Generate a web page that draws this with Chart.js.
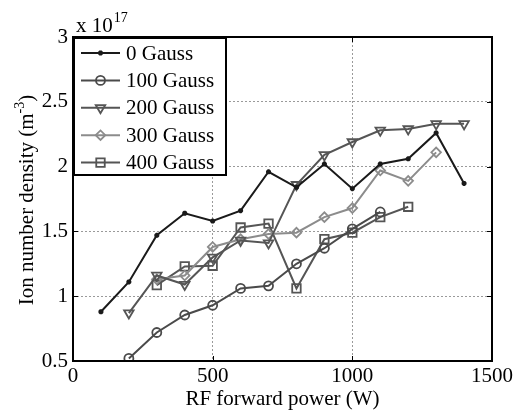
<!DOCTYPE html>
<html>
<head>
<meta charset="utf-8">
<script src="https://cdn.jsdelivr.net/npm/chart.js@4/dist/chart.umd.min.js"></script>
<style>
html,body{margin:0;padding:0;background:#fff;}
#wrap{width:516px;height:410px;position:relative;}
</style>
</head>
<body>
<div id="wrap"><canvas id="c" width="516" height="410"></canvas></div>
<script>
// ---- data ----
const seriesNames = ["0 Gauss", "100 Gauss", "200 Gauss", "300 Gauss", "400 Gauss"];
const power0   = [100, 200, 300, 400, 500, 600, 700, 800, 900, 1000, 1100, 1200, 1300, 1400];
const density0 = [0.88, 1.11, 1.47, 1.64, 1.58, 1.66, 1.96, 1.84, 2.02, 1.83, 2.02, 2.06, 2.26, 1.87];
const power100   = [200, 300, 400, 500, 600, 700, 800, 900, 1000, 1100];
const density100 = [0.52, 0.72, 0.855, 0.93, 1.06, 1.08, 1.25, 1.37, 1.52, 1.65];
const power200   = [200, 300, 400, 500, 600, 700, 800, 900, 1000, 1100, 1200, 1300, 1400];
const density200 = [0.87, 1.16, 1.09, 1.30, 1.43, 1.41, 1.86, 2.09, 2.19, 2.28, 2.29, 2.33, 2.33];
const power300   = [300, 400, 500, 600, 700, 800, 900, 1000, 1100, 1200, 1300];
const density300 = [1.13, 1.16, 1.38, 1.44, 1.48, 1.49, 1.61, 1.68, 1.97, 1.89, 2.11];
const power400   = [300, 400, 500, 600, 700, 800, 900, 1000, 1100, 1200];
const density400 = [1.085, 1.23, 1.235, 1.53, 1.56, 1.06, 1.44, 1.49, 1.61, 1.69];
const xTicks = [0, 500, 1000, 1500];
const yTicks = [0.5, 1, 1.5, 2, 2.5, 3];

// ---- styles ----
const FONT = '"Liberation Serif", "Times New Roman", serif';
const styles = [
  {color: '#1a1a1a', pointStyle: 'star',     radius: 2.5, rotation: 0},
  {color: '#4a4a4a', pointStyle: 'circle',   radius: 4.5, rotation: 0},
  {color: '#555555', pointStyle: 'triangle', radius: 5.5, rotation: 180},
  {color: '#8c8c8c', pointStyle: 'rectRot',  radius: 4.8, rotation: 0},
  {color: '#555555', pointStyle: 'rect',     radius: 6,   rotation: 0}
];
const xs = [power0, power100, power200, power300, power400];
const ys = [density0, density100, density200, density300, density400];

const datasets = seriesNames.map((name, i) => ({
  label: name,
  data: xs[i].map((p, k) => ({x: p, y: ys[i][k]})),
  borderColor: styles[i].color,
  backgroundColor: 'rgba(0,0,0,0)',
  borderWidth: 2,
  pointStyle: styles[i].pointStyle,
  pointRadius: styles[i].radius,
  pointRotation: styles[i].rotation,
  pointBorderColor: styles[i].color,
  pointBackgroundColor: 'rgba(0,0,0,0)',
  pointBorderWidth: 1.8,
  tension: 0,
  fill: false
}));

function drawMarker(ctx, st, x, y) {
  if (Chart.helpers && Chart.helpers.drawPoint) {
    Chart.helpers.drawPoint(ctx, {pointStyle: st.pointStyle, rotation: st.rotation, radius: st.radius, borderWidth: 1.8}, x, y);
    return;
  }
  ctx.beginPath();
  ctx.arc(x, y, st.radius, 0, Math.PI * 2);
  ctx.stroke();
}

const decor = {
  id: 'decor',
  afterDraw(chart) {
    const {ctx, chartArea: a, scales: {x, y}} = chart;
    ctx.save();
    // inward ticks on all sides
    ctx.strokeStyle = '#000';
    ctx.lineWidth = 1;
    ctx.setLineDash([]);
    ctx.beginPath();
    xTicks.forEach(v => {
      const px = Math.round(x.getPixelForValue(v)) + 0.5;
      ctx.moveTo(px, a.bottom); ctx.lineTo(px, a.bottom - 5);
      ctx.moveTo(px, a.top); ctx.lineTo(px, a.top + 5);
    });
    yTicks.forEach(v => {
      const py = Math.round(y.getPixelForValue(v)) + 0.5;
      ctx.moveTo(a.left, py); ctx.lineTo(a.left + 5, py);
      ctx.moveTo(a.right, py); ctx.lineTo(a.right - 5, py);
    });
    ctx.stroke();
    // frame
    ctx.lineWidth = 2;
    ctx.strokeRect(a.left, a.top, a.right - a.left, a.bottom - a.top);

    // legend box
    const lx = a.left + 1, ly = a.top + 1, lw = 152, lh = 137;
    ctx.fillStyle = '#fff';
    ctx.fillRect(lx, ly, lw, lh);
    ctx.strokeStyle = '#000';
    ctx.lineWidth = 2;
    ctx.strokeRect(lx, ly, lw, lh);
    ctx.font = '21px ' + FONT;
    ctx.textBaseline = 'middle';
    ctx.textAlign = 'left';
    seriesNames.forEach((name, i) => {
      const cy = 53 + i * 27.4;
      const st = styles[i];
      ctx.strokeStyle = st.color;
      ctx.lineWidth = 2;
      ctx.beginPath();
      ctx.moveTo(81, cy); ctx.lineTo(120, cy);
      ctx.stroke();
      ctx.fillStyle = 'rgba(0,0,0,0)';
      ctx.lineWidth = 1.8;
      drawMarker(ctx, st, 100.5, cy);
      ctx.fillStyle = '#000';
      ctx.fillText(name, 126, cy + 1);
    });

    // exponent label
    ctx.fillStyle = '#000';
    ctx.textBaseline = 'alphabetic';
    ctx.font = '21px ' + FONT;
    ctx.fillText('x 10', 76, 32);
    const w10 = ctx.measureText('x 10').width;
    ctx.font = '14px ' + FONT;
    ctx.fillText('17', 76 + w10 + 1, 22);

    // x title
    ctx.font = '21px ' + FONT;
    ctx.textAlign = 'center';
    ctx.textBaseline = 'middle';
    ctx.fillText('RF forward power (W)', (a.left + a.right) / 2, 399);

    // y title with superscript
    ctx.save();
    ctx.translate(27, (a.top + a.bottom) / 2 + 1);
    ctx.rotate(-Math.PI / 2);
    ctx.textAlign = 'left';
    ctx.textBaseline = 'middle';
    const main = 'Ion number density (m', sup = '-3', tail = ')';
    ctx.font = '21px ' + FONT;
    const wm = ctx.measureText(main).width, wt = ctx.measureText(tail).width;
    ctx.font = '14px ' + FONT;
    const ws = ctx.measureText(sup).width;
    let sx = -(wm + ws + wt) / 2;
    ctx.font = '21px ' + FONT;
    ctx.fillText(main, sx, 0);
    ctx.font = '14px ' + FONT;
    ctx.fillText(sup, sx + wm, -7);
    ctx.font = '21px ' + FONT;
    ctx.fillText(tail, sx + wm + ws, 0);
    ctx.restore();

    ctx.restore();
  }
};

new Chart(document.getElementById('c'), {
  type: 'line',
  data: {datasets},
  plugins: [decor],
  options: {
    responsive: false,
    animation: false,
    layout: {padding: {top: 37, right: 23, left: 0, bottom: 0}},
    plugins: {legend: {display: false}, tooltip: {enabled: false}},
    scales: {
      x: {
        type: 'linear', min: 0, max: 1500,
        afterBuildTicks: s => { s.ticks = xTicks.map(v => ({value: v})); },
        afterFit: s => { s.height = 49; },
        border: {display: false, dash: [2, 2]},
        grid: {color: '#9a9a9a', lineWidth: 1, drawTicks: false},
        ticks: {font: {family: FONT, size: 21}, color: '#000', padding: 3, maxRotation: 0, autoSkip: false,
                callback: v => String(v)}
      },
      y: {
        type: 'linear', min: 0.5, max: 3,
        afterBuildTicks: s => { s.ticks = yTicks.map(v => ({value: v})); },
        afterFit: s => { s.width = 73; },
        border: {display: false, dash: [2, 2]},
        grid: {color: '#9a9a9a', lineWidth: 1, drawTicks: false},
        ticks: {font: {family: FONT, size: 21}, color: '#000', padding: 5, autoSkip: false,
                callback: v => String(v)}
      }
    }
  }
});
</script>
</body>
</html>
